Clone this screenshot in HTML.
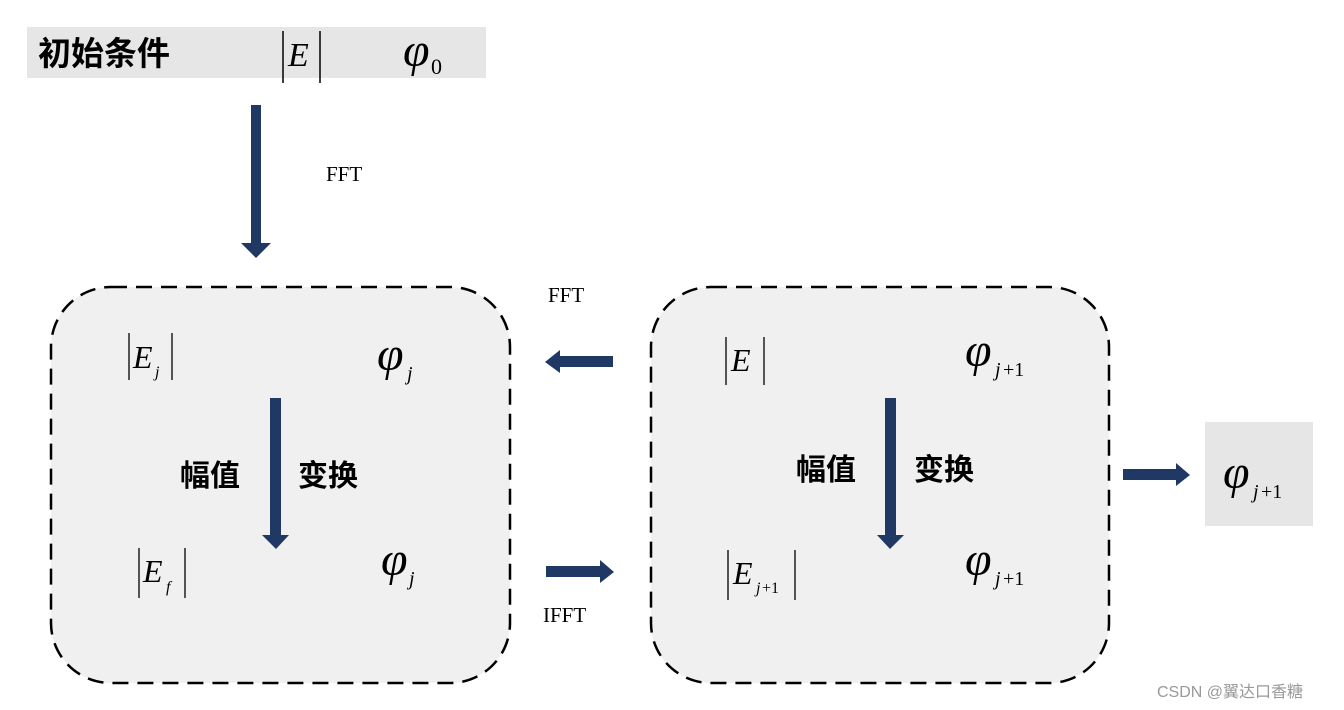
<!DOCTYPE html>
<html><head><meta charset="utf-8"><style>
html,body{margin:0;padding:0;background:#fff;}
svg{display:block}
.m{font-family:"Liberation Serif",serif;font-style:italic;}
.r{font-family:"Liberation Serif",serif;}
.c{font-family:"Liberation Sans","Noto Sans CJK SC",sans-serif;font-weight:bold;}
</style></head><body>
<svg width="1344" height="710" viewBox="0 0 1344 710" xmlns="http://www.w3.org/2000/svg">
<rect x="27" y="27" width="459" height="51" fill="#e6e6e6"/>
<text x="38" y="65" class="c" font-size="33" fill="#000">初始条件</text>
<line x1="283" y1="31" x2="283" y2="83" stroke="#000" stroke-width="1.5"/>
<line x1="320" y1="31" x2="320" y2="83" stroke="#000" stroke-width="1.5"/>
<text x="288" y="66" class="m" font-size="34">E</text>
<text x="403" y="66" class="m" font-size="48">φ</text>
<text x="431" y="74" class="r" font-size="22">0</text>

<g fill="#1f3864">
<polygon points="251,105 261,105 261,243 271,243 256,258 241,243 251,243"/>
<polygon points="613,356 560,356 560,350 545,362 560,373 560,367 613,367"/>
<polygon points="546,566 600,566 600,560 614,572 600,583 600,577 546,577"/>
<polygon points="1123,469 1176,469 1176,463 1190,475 1176,486 1176,480 1123,480"/>
</g>
<text x="326" y="181" class="r" font-size="21">FFT</text>
<text x="548" y="302" class="r" font-size="21">FFT</text>
<text x="543" y="622" class="r" font-size="21">IFFT</text>

<rect x="51" y="287" width="459" height="396" rx="60" fill="#f0f0f0" stroke="#000" stroke-width="2.5" stroke-dasharray="16,9"/>
<rect x="651" y="287" width="458" height="396" rx="60" fill="#f0f0f0" stroke="#000" stroke-width="2.5" stroke-dasharray="16,9"/>
<g fill="#1f3864">
<polygon points="270,398 281,398 281,535 289,535 276,549 262,535 270,535"/>
<polygon points="885,398 896,398 896,535 904,535 890,549 877,535 885,535"/>
</g>

<line x1="129" y1="333" x2="129" y2="380" stroke="#000" stroke-width="1.3"/>
<line x1="172" y1="333" x2="172" y2="380" stroke="#000" stroke-width="1.3"/>
<text x="133" y="368" class="m" font-size="32">E</text>
<text x="155" y="377" class="m" font-size="16">j</text>
<text x="377" y="370" class="m" font-size="48">φ</text>
<text x="407" y="380" class="m" font-size="20">j</text>
<text x="180" y="486" class="c" font-size="30">幅值</text>
<text x="298" y="486" class="c" font-size="30">变换</text>
<line x1="139" y1="548" x2="139" y2="598" stroke="#000" stroke-width="1.3"/>
<line x1="185" y1="548" x2="185" y2="598" stroke="#000" stroke-width="1.3"/>
<text x="143" y="582" class="m" font-size="32">E</text>
<text x="166" y="592" class="m" font-size="16">f</text>
<text x="381" y="575" class="m" font-size="48">φ</text>
<text x="409" y="585" class="m" font-size="20">j</text>

<line x1="726" y1="337" x2="726" y2="385" stroke="#000" stroke-width="1.3"/>
<line x1="764" y1="337" x2="764" y2="385" stroke="#000" stroke-width="1.3"/>
<text x="731" y="371" class="m" font-size="32">E</text>
<text x="965" y="366" class="m" font-size="48">φ</text>
<text x="995" y="376" class="m" font-size="20">j</text>
<text x="1003" y="376" class="r" font-size="20">+1</text>
<text x="796" y="480" class="c" font-size="30">幅值</text>
<text x="914" y="480" class="c" font-size="30">变换</text>
<line x1="728" y1="550" x2="728" y2="600" stroke="#000" stroke-width="1.3"/>
<line x1="795" y1="550" x2="795" y2="600" stroke="#000" stroke-width="1.3"/>
<text x="733" y="584" class="m" font-size="32">E</text>
<text x="756" y="593" class="m" font-size="16">j</text>
<text x="762" y="593" class="r" font-size="16">+1</text>
<text x="965" y="575" class="m" font-size="48">φ</text>
<text x="995" y="585" class="m" font-size="20">j</text>
<text x="1003" y="585" class="r" font-size="20">+1</text>

<rect x="1205" y="422" width="108" height="104" fill="#e6e6e6"/>
<text x="1223" y="488" class="m" font-size="48">φ</text>
<text x="1253" y="498" class="m" font-size="20">j</text>
<text x="1261" y="498" class="r" font-size="20">+1</text>

<text x="1157" y="697" font-family="Liberation Sans,'Noto Sans CJK SC',sans-serif" font-size="16" fill="#999">CSDN @翼达口香糖</text>
</svg>
</body></html>
